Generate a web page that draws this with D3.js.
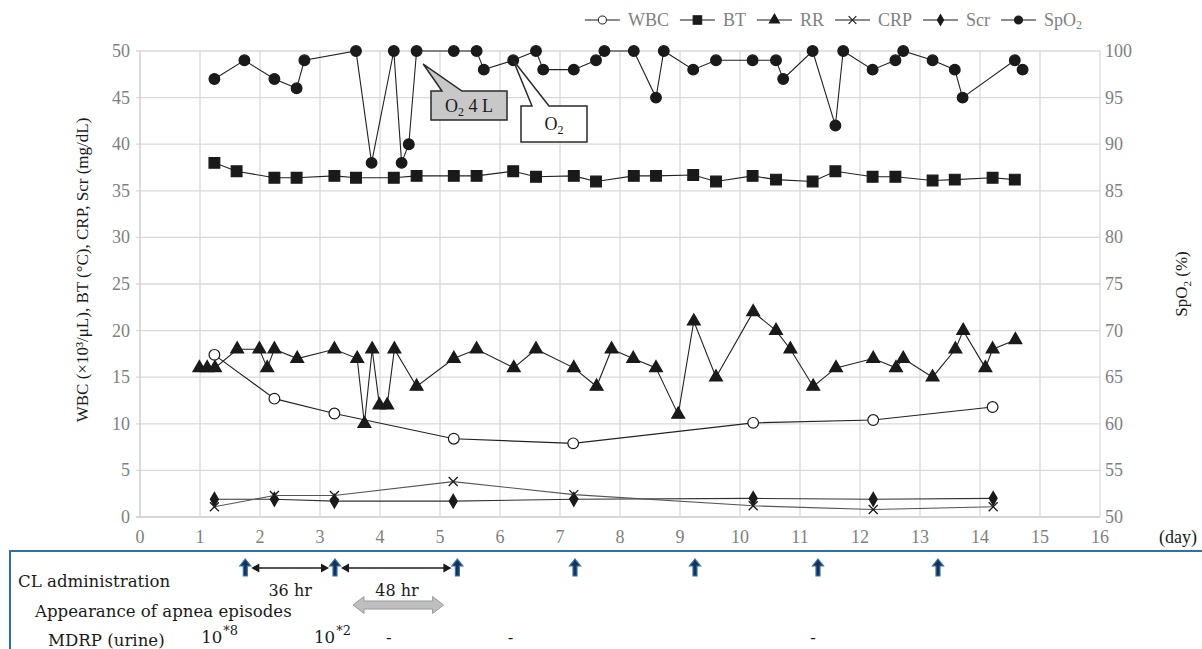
<!DOCTYPE html>
<html><head><meta charset="utf-8">
<script src="https://cdn.jsdelivr.net/npm/d3@7"></script>
<style>
html,body{margin:0;padding:0;background:#fff;}
svg{display:block;}
</style></head>
<body>
<svg id="c" width="1202" height="649" font-family="'Liberation Serif','Times New Roman',serif"></svg>
<script>
// ---------- DATA ----------
const xTicks = d3.range(0, 17);
const yLeftTicks = [0,5,10,15,20,25,30,35,40,45,50];
const yRightTicks = [50,55,60,65,70,75,80,85,90,95,100];

const wbcDays = [1.24,2.24,3.24,5.23,7.22,10.22,12.22,14.21];
const wbcVals = [17.4,12.7,11.1,8.4,7.9,10.1,10.4,11.8];

const btDays = [1.24,1.61,2.24,2.61,3.24,3.6,4.23,4.61,5.23,5.61,6.22,6.6,7.23,7.6,8.23,8.6,9.22,9.6,10.21,10.6,11.21,11.59,12.21,12.59,13.21,13.58,14.21,14.58];
const btVals = [38.0,37.1,36.4,36.4,36.6,36.4,36.4,36.6,36.6,36.6,37.1,36.5,36.6,36.0,36.6,36.6,36.7,36.0,36.6,36.2,36.0,37.1,36.5,36.5,36.1,36.2,36.4,36.2];

const rrDays = [0.99,1.12,1.25,1.62,1.99,2.12,2.24,2.62,3.24,3.62,3.74,3.87,3.99,4.12,4.24,4.61,5.23,5.61,6.23,6.6,7.23,7.61,7.86,8.22,8.6,8.97,9.23,9.6,10.22,10.6,10.84,11.22,11.6,12.22,12.6,12.72,13.21,13.59,13.72,14.09,14.21,14.59];
const rrVals = [16,16,16,18,18,16,18,17,18,17,10,18,12,12,18,14,17,18,16,18,16,14,18,17,16,11,21,15,22,20,18,14,16,17,16,17,15,18,20,16,18,19];

const crpDays = [1.24,2.24,3.24,5.22,7.23,10.22,12.22,14.22];
const crpVals = [1.1,2.3,2.3,3.8,2.4,1.2,0.8,1.1];

const scrDays = [1.24,2.24,3.24,5.22,7.23,10.22,12.22,14.22];
const scrVals = [1.9,1.9,1.7,1.7,1.9,2.0,1.9,2.0];

const spo2Days = [1.24,1.74,2.24,2.61,2.74,3.6,3.86,4.23,4.36,4.48,4.61,5.23,5.61,5.73,6.22,6.6,6.72,7.23,7.6,7.74,8.23,8.6,8.73,9.22,9.6,10.21,10.6,10.72,11.21,11.59,11.72,12.21,12.59,12.72,13.21,13.58,13.71,14.58,14.71];
const spo2Vals = [97,99,97,96,99,100,88,100,88,90,100,100,100,98,99,100,98,98,99,100,100,95,100,98,99,99,99,97,100,92,100,98,99,100,99,98,95,99,98];

const clDays = [1.755,3.25,5.29,7.25,9.25,11.3,13.3];
const intervalLabels = ["36 hr","48 hr"];
const mdrpDays = [1.02,2.9,4.1,6.13,11.17];
const mdrpBase = ["10","10","-","-","-"];
const mdrpSup  = ["*8","*2","","",""];

// ---------- SETUP ----------
const FONT = "'Liberation Serif','Times New Roman',serif";
const FONT2 = "'DejaVu Serif','Liberation Serif',serif";
const svg = d3.select("#c");
const x = d3.scaleLinear().domain([0,16]).range([140,1100]);
const yL = d3.scaleLinear().domain([0,50]).range([517,51]);
const yR = d3.scaleLinear().domain([50,100]).range([517,51]);
const gridCol = "#d9d9d9", tickCol = "#808080", ink = "#1a1a1a";

// grid
const g = svg.append("g");
g.selectAll(".hg").data(yLeftTicks).join("line")
  .attr("x1", 136).attr("x2", x(16)).attr("y1", d=>yL(d)).attr("y2", d=>yL(d))
  .attr("stroke", d=> d===0 ? "#c8c8c8" : gridCol).attr("stroke-width", 1.3);
g.selectAll(".vg").data(xTicks).join("line")
  .attr("x1", d=>x(d)).attr("x2", d=>x(d)).attr("y1", yL(50)).attr("y2", yL(0))
  .attr("stroke", d=> d===0 ? "#c8c8c8" : gridCol).attr("stroke-width", 1.3);

// tick labels
g.selectAll(".yl").data(yLeftTicks).join("text")
  .attr("x", 130).attr("y", d=>yL(d)+6).attr("text-anchor","end")
  .attr("font-size", 18).attr("fill", tickCol).text(d=>d);
g.selectAll(".yr").data(yRightTicks).join("text")
  .attr("x", 1105).attr("y", d=>yR(d)+6).attr("text-anchor","start")
  .attr("font-size", 18).attr("fill", tickCol).text(d=>d);
g.selectAll(".xl").data(xTicks).join("text")
  .attr("x", d=>x(d)).attr("y", 543).attr("text-anchor","middle")
  .attr("font-size", 18).attr("fill", tickCol).text(d=>d);
svg.append("text").attr("x", 1178).attr("y", 543).attr("text-anchor","middle")
  .attr("font-size", 18).attr("fill", ink).text("(day)");

// axis titles
svg.append("text").attr("transform","translate(88,270) rotate(-90)")
  .attr("text-anchor","middle").attr("font-size", 17).attr("fill", ink)
  .text("WBC (×10³/μL), BT (°C), CRP, Scr (mg/dL)");
const rt = svg.append("text").attr("transform","translate(1187,284) rotate(-90)")
  .attr("text-anchor","middle").attr("font-size", 17).attr("fill", ink);
rt.append("tspan").text("SpO");
rt.append("tspan").attr("font-size", 11).attr("dy", 4).text("2");
rt.append("tspan").attr("dy", -4).text(" (%)");

// ---------- SERIES ----------
const sym = {
  circle: d3.symbol().type(d3.symbolCircle).size(90)(),
  square: d3.symbol().type(d3.symbolSquare).size(115)(),
  triangle: d3.symbol().type(d3.symbolTriangle).size(72)(),
  diamond: d3.symbol().type(d3.symbolDiamond).size(55)(),
  cross: "M-4.5,-4.5L4.5,4.5M-4.5,4.5L4.5,-4.5"
};
function drawSeries(days, vals, ys, marker, fill, lineCol){
  const pts = days.map((d,i)=>[x(d), ys(vals[i])]);
  svg.append("path").attr("d", d3.line()(pts)).attr("fill","none")
    .attr("stroke", lineCol).attr("stroke-width", 1.1);
  svg.append("g").selectAll("path").data(pts).join("path")
    .attr("transform", p=>`translate(${p[0]},${p[1]})`)
    .attr("d", sym[marker])
    .attr("fill", marker==="cross" ? "none" : fill)
    .attr("stroke", ink).attr("stroke-width", marker==="cross" ? 1.3 : 1.2);
}
drawSeries(scrDays, scrVals, yL, "diamond", ink, "#333");
drawSeries(crpDays, crpVals, yL, "cross", ink, "#555");
drawSeries(wbcDays, wbcVals, yL, "circle", "#fff", "#222");
drawSeries(rrDays, rrVals, yL, "triangle", ink, "#222");
drawSeries(btDays, btVals, yL, "square", ink, "#222");
drawSeries(spo2Days, spo2Vals, yR, "circle", ink, "#222");

// ---------- CALLOUTS ----------
function callout(bx, by, bw, bh, tip, b1, b2, fill){
  const p = [[bx,by],[b1,by],tip,[b2,by],[bx+bw,by],[bx+bw,by+bh],[bx,by+bh]];
  svg.append("path").attr("d", "M"+p.map(q=>q.join(",")).join("L")+"Z")
    .attr("fill", fill).attr("stroke", "#2a2a2a").attr("stroke-width", 1.5);
}
callout(431, 91, 76, 29, [x(4.72), yR(98.6)], 442, 462, "#c8c8c8");
const t1 = svg.append("text").attr("x", 469).attr("y", 112).attr("text-anchor","middle")
  .attr("font-size", 18).attr("fill", ink);
t1.append("tspan").text("O");
t1.append("tspan").attr("font-size", 12).attr("dy", 4).text("2");
t1.append("tspan").attr("dy", -4).text(" 4 L");

callout(521, 106, 66, 36, [x(6.22), yR(99)], 532, 549, "#fff");
const t2 = svg.append("text").attr("x", 554).attr("y", 130).attr("text-anchor","middle")
  .attr("font-size", 18).attr("fill", ink);
t2.append("tspan").text("O");
t2.append("tspan").attr("font-size", 12).attr("dy", 4).text("2");

// ---------- LEGEND ----------
const legendItems = [
  {name:"WBC", m:"circle", f:"#fff"},
  {name:"BT", m:"square", f:ink},
  {name:"RR", m:"triangle", f:ink},
  {name:"CRP", m:"cross", f:ink},
  {name:"Scr", m:"diamond", f:ink},
  {name:"SpO", sub:"2", m:"circle", f:ink}
];
const lg = svg.append("g");
let widths = legendItems.map(it=>{
  const t = lg.append("text").attr("font-size", 18).text(it.name);
  if(it.sub) t.append("tspan").attr("font-size", 12).text(it.sub);
  const w = t.node().getComputedTextLength(); t.remove(); return w;
});
const lineW = 35, gap1 = 8, gap2 = 11;
const total = d3.sum(widths) + legendItems.length*(lineW+gap1) + (legendItems.length-1)*gap2;
let cx = 1082 - total;
const ly = 20;
legendItems.forEach((it,i)=>{
  lg.append("line").attr("x1", cx).attr("x2", cx+lineW).attr("y1", ly).attr("y2", ly)
    .attr("stroke", ink).attr("stroke-width", 1.1);
  const sc = it.m==="circle" ? 0.75 : (it.m==="cross"?0.85:0.8);
  lg.append("path").attr("transform", `translate(${cx+lineW/2},${ly}) scale(${sc})`)
    .attr("d", sym[it.m]).attr("fill", it.m==="cross"?"none":it.f)
    .attr("stroke", ink).attr("stroke-width", 1.3);
  const t = lg.append("text").attr("x", cx+lineW+gap1).attr("y", ly+6)
    .attr("font-size", 18).attr("fill", tickCol).text(it.name);
  if(it.sub) t.append("tspan").attr("font-size", 12).attr("dy", 3).text(it.sub);
  cx += lineW + gap1 + widths[i] + gap2;
});

// ---------- BOTTOM PANEL ----------
const bp = svg.append("g").attr("font-family", FONT2);
bp.append("path").attr("d", "M10,652L10,551L1205,551").attr("fill","none")
  .attr("stroke", "#2e6fad").attr("stroke-width", 2);

bp.selectAll(".cl").data(clDays).join("path")
  .attr("transform", d=>`translate(${x(d)},559)`)
  .attr("d", "M0,0L5.5,7L2,7L2,17L-2,17L-2,7L-5.5,7Z")
  .attr("fill", "#1f2f4f").attr("stroke", "#2e75b6").attr("stroke-width", 1.2);

function dblArrow(x1, x2, y){
  bp.append("line").attr("x1", x1+5).attr("x2", x2-5).attr("y1", y).attr("y2", y)
    .attr("stroke", ink).attr("stroke-width", 1.6);
  bp.append("path").attr("d", `M${x1},${y}L${x1+8},${y-4.5}L${x1+8},${y+4.5}Z`).attr("fill", ink);
  bp.append("path").attr("d", `M${x2},${y}L${x2-8},${y-4.5}L${x2-8},${y+4.5}Z`).attr("fill", ink);
}
dblArrow(x(clDays[0])+6, x(clDays[1])-6, 568);
dblArrow(x(clDays[1])+6, x(clDays[2])-6, 568);
bp.append("text").attr("x", (x(clDays[0])+x(clDays[1]))/2).attr("y", 596)
  .attr("text-anchor","middle").attr("font-size", 16).attr("fill", ink).text(intervalLabels[0]);
bp.append("text").attr("x", 397).attr("y", 596)
  .attr("text-anchor","middle").attr("font-size", 16).attr("fill", ink).text(intervalLabels[1]);

(function(){
  const x1 = x(3.55), x2 = x(5.06), cy = 605, sh = 4, hh = 8.5, hl = 11;
  const p = [[x1,cy],[x1+hl,cy-hh],[x1+hl,cy-sh],[x2-hl,cy-sh],[x2-hl,cy-hh],[x2,cy],
             [x2-hl,cy+hh],[x2-hl,cy+sh],[x1+hl,cy+sh],[x1+hl,cy+hh]];
  bp.append("path").attr("d", "M"+p.map(q=>q.join(",")).join("L")+"Z")
    .attr("fill", "#bfbfbf").attr("stroke", "#9a9a9a").attr("stroke-width", 1);
})();

bp.append("text").attr("x", 18).attr("y", 587).attr("font-size", 16.6).attr("fill", ink).text("CL administration");
bp.append("text").attr("x", 35).attr("y", 617).attr("font-size", 16.6).attr("fill", ink).text("Appearance of apnea episodes");
bp.append("text").attr("x", 48).attr("y", 646).attr("font-size", 16.6).attr("fill", ink).text("MDRP (urine)");

mdrpDays.forEach((d,i)=>{
  const t = bp.append("text").attr("x", x(d)).attr("y", 643).attr("font-size", 16.6).attr("fill", ink);
  t.append("tspan").text(mdrpBase[i]);
  if(mdrpSup[i]) t.append("tspan").attr("font-size", 13).attr("dy", -8).attr("dx", 1).text(mdrpSup[i]);
});
</script>
</body></html>
